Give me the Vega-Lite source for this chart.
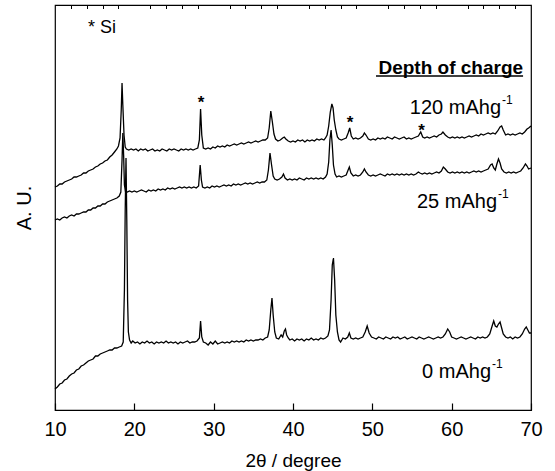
{
 "$schema": "https://vega.github.io/schema/vega-lite/v6.json",
 "width": 476, "height": 405,
 "autosize": {"type": "none"},
 "padding": {"left": 55, "top": 5, "right": 24, "bottom": 61},
 "config": {"font": "Liberation Sans", "view": {"stroke": "black", "strokeWidth": 1.2},
   "axis": {"grid": false, "labelFont": "Liberation Sans", "titleFont": "Liberation Sans", "labelColor": "black", "titleColor": "black", "domainColor": "black", "tickColor": "black"}},
 "datasets": {
  "c0": [{"x":10.0,"y":21},{"x":10.3,"y":23},{"x":10.6,"y":26},{"x":10.9,"y":27},{"x":11.2,"y":30},{"x":11.5,"y":31},{"x":11.8,"y":34},{"x":12.1,"y":36},{"x":12.4,"y":37},{"x":12.7,"y":40},{"x":13.0,"y":41},{"x":13.3,"y":44},{"x":13.6,"y":45},{"x":13.9,"y":47},{"x":14.2,"y":49},{"x":14.5,"y":50},{"x":14.8,"y":51},{"x":15.1,"y":54},{"x":15.4,"y":54},{"x":15.7,"y":56},{"x":16.0,"y":57},{"x":16.3,"y":58},{"x":16.6,"y":59},{"x":16.9,"y":60},{"x":17.2,"y":60},{"x":17.5,"y":62},{"x":17.8,"y":62},{"x":18.1,"y":63},{"x":18.4,"y":64},{"x":18.6,"y":68},{"x":18.75,"y":120},{"x":18.85,"y":200},{"x":18.95,"y":252},{"x":19.05,"y":190},{"x":19.15,"y":110},{"x":19.25,"y":78},{"x":19.4,"y":70},{"x":19.6,"y":67},{"x":19.8,"y":69},{"x":20.1,"y":67},{"x":20.4,"y":68},{"x":20.7,"y":66},{"x":21.0,"y":68},{"x":21.3,"y":67},{"x":21.6,"y":69},{"x":21.9,"y":67},{"x":22.2,"y":68},{"x":22.5,"y":66},{"x":22.8,"y":68},{"x":23.1,"y":67},{"x":23.4,"y":68},{"x":23.7,"y":67},{"x":24.0,"y":69},{"x":24.3,"y":67},{"x":24.6,"y":68},{"x":24.9,"y":67},{"x":25.2,"y":68},{"x":25.5,"y":66},{"x":25.8,"y":68},{"x":26.1,"y":67},{"x":26.4,"y":68},{"x":26.7,"y":69},{"x":27.0,"y":67},{"x":27.3,"y":68},{"x":27.6,"y":68},{"x":27.9,"y":69},{"x":28.2,"y":72},{"x":28.35,"y":89},{"x":28.5,"y":73},{"x":28.7,"y":68},{"x":29.0,"y":67},{"x":29.3,"y":65},{"x":29.6,"y":68},{"x":29.9,"y":66},{"x":30.2,"y":69},{"x":30.5,"y":66},{"x":30.8,"y":67},{"x":31.1,"y":68},{"x":31.4,"y":67},{"x":31.7,"y":68},{"x":32.0,"y":67},{"x":32.3,"y":69},{"x":32.6,"y":68},{"x":32.9,"y":69},{"x":33.2,"y":68},{"x":33.5,"y":69},{"x":33.8,"y":68},{"x":34.1,"y":70},{"x":34.4,"y":69},{"x":34.7,"y":70},{"x":35.0,"y":69},{"x":35.3,"y":70},{"x":35.6,"y":70},{"x":35.9,"y":71},{"x":36.2,"y":70},{"x":36.5,"y":72},{"x":36.8,"y":73},{"x":37.0,"y":80},{"x":37.2,"y":100},{"x":37.35,"y":112},{"x":37.5,"y":95},{"x":37.7,"y":78},{"x":37.9,"y":72},{"x":38.2,"y":71},{"x":38.5,"y":75},{"x":38.7,"y":73},{"x":38.9,"y":79},{"x":39.05,"y":81},{"x":39.2,"y":75},{"x":39.4,"y":72},{"x":39.6,"y":70},{"x":39.9,"y":71},{"x":40.2,"y":69},{"x":40.5,"y":71},{"x":40.8,"y":70},{"x":41.1,"y":71},{"x":41.4,"y":69},{"x":41.7,"y":71},{"x":42.0,"y":70},{"x":42.3,"y":72},{"x":42.6,"y":70},{"x":42.9,"y":71},{"x":43.2,"y":70},{"x":43.5,"y":72},{"x":43.8,"y":71},{"x":44.1,"y":72},{"x":44.4,"y":74},{"x":44.6,"y":80},{"x":44.8,"y":110},{"x":44.95,"y":145},{"x":45.1,"y":152},{"x":45.25,"y":130},{"x":45.4,"y":95},{"x":45.6,"y":78},{"x":45.8,"y":70},{"x":46.0,"y":68},{"x":46.3,"y":72},{"x":46.6,"y":71},{"x":46.9,"y":73},{"x":47.1,"y":77},{"x":47.3,"y":72},{"x":47.6,"y":71},{"x":47.9,"y":72},{"x":48.2,"y":71},{"x":48.5,"y":72},{"x":48.8,"y":73},{"x":49.1,"y":78},{"x":49.35,"y":84},{"x":49.6,"y":77},{"x":49.9,"y":73},{"x":50.2,"y":72},{"x":50.5,"y":71},{"x":50.8,"y":73},{"x":51.1,"y":72},{"x":51.4,"y":71},{"x":51.7,"y":73},{"x":52.0,"y":72},{"x":52.3,"y":71},{"x":52.6,"y":73},{"x":52.9,"y":72},{"x":53.2,"y":73},{"x":53.5,"y":71},{"x":53.8,"y":72},{"x":54.1,"y":73},{"x":54.4,"y":71},{"x":54.7,"y":72},{"x":55.0,"y":73},{"x":55.3,"y":72},{"x":55.6,"y":71},{"x":55.9,"y":73},{"x":56.2,"y":72},{"x":56.5,"y":71},{"x":56.8,"y":72},{"x":57.1,"y":73},{"x":57.4,"y":72},{"x":57.7,"y":71},{"x":58.0,"y":72},{"x":58.3,"y":73},{"x":58.6,"y":72},{"x":58.9,"y":73},{"x":59.2,"y":76},{"x":59.5,"y":81},{"x":59.75,"y":78},{"x":60.0,"y":73},{"x":60.3,"y":72},{"x":60.6,"y":71},{"x":60.9,"y":72},{"x":61.2,"y":73},{"x":61.5,"y":72},{"x":61.8,"y":71},{"x":62.1,"y":72},{"x":62.4,"y":73},{"x":62.7,"y":72},{"x":63.0,"y":71},{"x":63.3,"y":73},{"x":63.6,"y":72},{"x":63.9,"y":73},{"x":64.2,"y":72},{"x":64.5,"y":73},{"x":64.8,"y":76},{"x":65.1,"y":84},{"x":65.3,"y":89},{"x":65.5,"y":84},{"x":65.7,"y":83},{"x":65.9,"y":86},{"x":66.1,"y":88},{"x":66.3,"y":82},{"x":66.5,"y":76},{"x":66.8,"y":73},{"x":67.1,"y":72},{"x":67.4,"y":73},{"x":67.7,"y":71},{"x":68.0,"y":73},{"x":68.3,"y":72},{"x":68.6,"y":73},{"x":68.9,"y":76},{"x":69.2,"y":81},{"x":69.4,"y":83},{"x":69.6,"y":80},{"x":69.8,"y":77},{"x":70.0,"y":77}],
  "c25": [{"x":10.0,"y":190},{"x":10.3,"y":191},{"x":10.6,"y":190},{"x":10.9,"y":192},{"x":11.2,"y":193},{"x":11.5,"y":192},{"x":11.8,"y":194},{"x":12.1,"y":195},{"x":12.4,"y":194},{"x":12.7,"y":196},{"x":13.0,"y":196},{"x":13.3,"y":197},{"x":13.6,"y":198},{"x":13.9,"y":198},{"x":14.2,"y":200},{"x":14.5,"y":200},{"x":14.8,"y":202},{"x":15.1,"y":202},{"x":15.4,"y":204},{"x":15.7,"y":204},{"x":16.0,"y":206},{"x":16.3,"y":206},{"x":16.6,"y":208},{"x":16.9,"y":209},{"x":17.2,"y":210},{"x":17.5,"y":211},{"x":17.8,"y":212},{"x":18.1,"y":214},{"x":18.3,"y":218},{"x":18.45,"y":250},{"x":18.55,"y":277},{"x":18.65,"y":255},{"x":18.75,"y":225},{"x":18.9,"y":218},{"x":19.1,"y":218},{"x":19.4,"y":219},{"x":19.7,"y":218},{"x":20.0,"y":219},{"x":20.3,"y":218},{"x":20.6,"y":219},{"x":20.9,"y":220},{"x":21.2,"y":219},{"x":21.5,"y":218},{"x":21.8,"y":220},{"x":22.1,"y":219},{"x":22.4,"y":220},{"x":22.7,"y":219},{"x":23.0,"y":221},{"x":23.3,"y":220},{"x":23.6,"y":221},{"x":23.9,"y":220},{"x":24.2,"y":222},{"x":24.5,"y":221},{"x":24.8,"y":222},{"x":25.1,"y":221},{"x":25.4,"y":222},{"x":25.7,"y":223},{"x":26.0,"y":222},{"x":26.3,"y":223},{"x":26.6,"y":222},{"x":26.9,"y":223},{"x":27.2,"y":222},{"x":27.5,"y":223},{"x":27.8,"y":222},{"x":28.1,"y":224},{"x":28.3,"y":245},{"x":28.45,"y":230},{"x":28.6,"y":223},{"x":28.9,"y":222},{"x":29.2,"y":223},{"x":29.5,"y":222},{"x":29.8,"y":224},{"x":30.1,"y":223},{"x":30.4,"y":224},{"x":30.7,"y":223},{"x":31.0,"y":224},{"x":31.3,"y":225},{"x":31.6,"y":224},{"x":31.9,"y":225},{"x":32.2,"y":224},{"x":32.5,"y":226},{"x":32.8,"y":225},{"x":33.1,"y":226},{"x":33.4,"y":225},{"x":33.7,"y":226},{"x":34.0,"y":227},{"x":34.3,"y":226},{"x":34.6,"y":227},{"x":34.9,"y":226},{"x":35.2,"y":227},{"x":35.5,"y":228},{"x":35.8,"y":227},{"x":36.1,"y":228},{"x":36.4,"y":228},{"x":36.7,"y":230},{"x":36.9,"y":240},{"x":37.1,"y":257},{"x":37.3,"y":245},{"x":37.5,"y":234},{"x":37.7,"y":231},{"x":38.0,"y":230},{"x":38.3,"y":231},{"x":38.6,"y":233},{"x":38.8,"y":236},{"x":39.0,"y":232},{"x":39.3,"y":230},{"x":39.6,"y":231},{"x":39.9,"y":230},{"x":40.2,"y":231},{"x":40.5,"y":230},{"x":40.8,"y":232},{"x":41.1,"y":231},{"x":41.4,"y":230},{"x":41.7,"y":232},{"x":42.0,"y":231},{"x":42.3,"y":232},{"x":42.6,"y":231},{"x":42.9,"y":232},{"x":43.2,"y":231},{"x":43.5,"y":232},{"x":43.8,"y":231},{"x":44.1,"y":233},{"x":44.3,"y":236},{"x":44.5,"y":248},{"x":44.65,"y":270},{"x":44.8,"y":280},{"x":44.95,"y":265},{"x":45.1,"y":245},{"x":45.3,"y":236},{"x":45.5,"y":233},{"x":45.8,"y":234},{"x":46.1,"y":233},{"x":46.4,"y":234},{"x":46.7,"y":235},{"x":46.95,"y":240},{"x":47.1,"y":243},{"x":47.3,"y":237},{"x":47.6,"y":234},{"x":47.9,"y":235},{"x":48.2,"y":234},{"x":48.5,"y":235},{"x":48.8,"y":238},{"x":49.0,"y":241},{"x":49.2,"y":238},{"x":49.5,"y":235},{"x":49.8,"y":234},{"x":50.1,"y":235},{"x":50.4,"y":234},{"x":50.7,"y":235},{"x":51.0,"y":236},{"x":51.3,"y":235},{"x":51.6,"y":234},{"x":51.9,"y":236},{"x":52.2,"y":235},{"x":52.5,"y":236},{"x":52.8,"y":235},{"x":53.1,"y":236},{"x":53.4,"y":235},{"x":53.7,"y":236},{"x":54.0,"y":235},{"x":54.3,"y":236},{"x":54.6,"y":235},{"x":54.9,"y":236},{"x":55.2,"y":235},{"x":55.5,"y":236},{"x":55.8,"y":238},{"x":56.0,"y":237},{"x":56.3,"y":236},{"x":56.6,"y":237},{"x":56.9,"y":236},{"x":57.2,"y":237},{"x":57.5,"y":236},{"x":57.8,"y":237},{"x":58.1,"y":238},{"x":58.4,"y":237},{"x":58.7,"y":239},{"x":58.95,"y":243},{"x":59.2,"y":241},{"x":59.5,"y":238},{"x":59.8,"y":237},{"x":60.1,"y":238},{"x":60.4,"y":237},{"x":60.7,"y":238},{"x":61.0,"y":237},{"x":61.3,"y":238},{"x":61.6,"y":237},{"x":61.9,"y":238},{"x":62.2,"y":237},{"x":62.5,"y":238},{"x":62.8,"y":239},{"x":63.1,"y":238},{"x":63.4,"y":239},{"x":63.7,"y":238},{"x":64.0,"y":239},{"x":64.3,"y":240},{"x":64.6,"y":241},{"x":64.9,"y":245},{"x":65.1,"y":246},{"x":65.3,"y":242},{"x":65.5,"y":240},{"x":65.7,"y":246},{"x":65.9,"y":251},{"x":66.1,"y":247},{"x":66.3,"y":241},{"x":66.6,"y":238},{"x":66.9,"y":237},{"x":67.2,"y":238},{"x":67.5,"y":237},{"x":67.8,"y":238},{"x":68.1,"y":237},{"x":68.4,"y":238},{"x":68.7,"y":239},{"x":69.0,"y":242},{"x":69.3,"y":246},{"x":69.5,"y":244},{"x":69.7,"y":241},{"x":70.0,"y":242}],
  "c120": [{"x":10.0,"y":223},{"x":10.3,"y":224},{"x":10.6,"y":226},{"x":10.9,"y":226},{"x":11.2,"y":228},{"x":11.5,"y":229},{"x":11.8,"y":230},{"x":12.1,"y":231},{"x":12.4,"y":233},{"x":12.7,"y":233},{"x":13.0,"y":234},{"x":13.3,"y":235},{"x":13.6,"y":237},{"x":13.9,"y":237},{"x":14.2,"y":239},{"x":14.5,"y":240},{"x":14.8,"y":241},{"x":15.1,"y":243},{"x":15.4,"y":244},{"x":15.7,"y":246},{"x":16.0,"y":247},{"x":16.3,"y":249},{"x":16.6,"y":250},{"x":16.9,"y":253},{"x":17.2,"y":255},{"x":17.5,"y":258},{"x":17.8,"y":261},{"x":18.0,"y":264},{"x":18.2,"y":272},{"x":18.35,"y":300},{"x":18.45,"y":327},{"x":18.55,"y":305},{"x":18.7,"y":275},{"x":18.85,"y":263},{"x":19.0,"y":261},{"x":19.3,"y":260},{"x":19.6,"y":261},{"x":19.9,"y":260},{"x":20.2,"y":261},{"x":20.5,"y":259},{"x":20.8,"y":261},{"x":21.1,"y":260},{"x":21.4,"y":261},{"x":21.7,"y":259},{"x":22.0,"y":260},{"x":22.3,"y":261},{"x":22.6,"y":259},{"x":22.9,"y":260},{"x":23.2,"y":259},{"x":23.5,"y":261},{"x":23.8,"y":260},{"x":24.1,"y":259},{"x":24.4,"y":261},{"x":24.7,"y":260},{"x":25.0,"y":261},{"x":25.3,"y":260},{"x":25.6,"y":259},{"x":25.9,"y":261},{"x":26.2,"y":260},{"x":26.5,"y":261},{"x":26.8,"y":260},{"x":27.1,"y":261},{"x":27.4,"y":260},{"x":27.7,"y":261},{"x":28.0,"y":262},{"x":28.2,"y":270},{"x":28.35,"y":301},{"x":28.5,"y":275},{"x":28.7,"y":262},{"x":29.0,"y":261},{"x":29.3,"y":262},{"x":29.6,"y":261},{"x":29.9,"y":263},{"x":30.2,"y":262},{"x":30.5,"y":264},{"x":30.8,"y":263},{"x":31.1,"y":264},{"x":31.4,"y":263},{"x":31.7,"y":265},{"x":32.0,"y":264},{"x":32.3,"y":265},{"x":32.6,"y":266},{"x":32.9,"y":265},{"x":33.2,"y":266},{"x":33.5,"y":267},{"x":33.8,"y":266},{"x":34.1,"y":267},{"x":34.4,"y":268},{"x":34.7,"y":267},{"x":35.0,"y":268},{"x":35.3,"y":269},{"x":35.6,"y":268},{"x":35.9,"y":269},{"x":36.2,"y":270},{"x":36.5,"y":270},{"x":36.8,"y":272},{"x":37.0,"y":282},{"x":37.2,"y":299},{"x":37.4,"y":288},{"x":37.6,"y":276},{"x":37.8,"y":271},{"x":38.1,"y":269},{"x":38.4,"y":270},{"x":38.7,"y":272},{"x":38.9,"y":273},{"x":39.1,"y":271},{"x":39.4,"y":269},{"x":39.7,"y":268},{"x":40.0,"y":269},{"x":40.3,"y":268},{"x":40.6,"y":270},{"x":40.9,"y":269},{"x":41.2,"y":270},{"x":41.5,"y":268},{"x":41.8,"y":270},{"x":42.1,"y":269},{"x":42.4,"y":270},{"x":42.7,"y":269},{"x":43.0,"y":271},{"x":43.3,"y":270},{"x":43.6,"y":271},{"x":43.9,"y":270},{"x":44.1,"y":272},{"x":44.3,"y":275},{"x":44.5,"y":284},{"x":44.7,"y":298},{"x":44.9,"y":306},{"x":45.05,"y":302},{"x":45.2,"y":290},{"x":45.4,"y":280},{"x":45.6,"y":273},{"x":45.8,"y":271},{"x":46.1,"y":270},{"x":46.4,"y":271},{"x":46.7,"y":272},{"x":46.95,"y":277},{"x":47.15,"y":282},{"x":47.35,"y":274},{"x":47.6,"y":271},{"x":47.9,"y":272},{"x":48.2,"y":271},{"x":48.5,"y":272},{"x":48.8,"y":274},{"x":49.0,"y":277},{"x":49.2,"y":275},{"x":49.5,"y":271},{"x":49.8,"y":270},{"x":50.1,"y":271},{"x":50.4,"y":270},{"x":50.7,"y":272},{"x":51.0,"y":271},{"x":51.3,"y":272},{"x":51.6,"y":271},{"x":51.9,"y":273},{"x":52.2,"y":272},{"x":52.5,"y":271},{"x":52.8,"y":273},{"x":53.1,"y":272},{"x":53.4,"y":271},{"x":53.7,"y":272},{"x":54.0,"y":273},{"x":54.3,"y":271},{"x":54.6,"y":272},{"x":54.9,"y":271},{"x":55.2,"y":272},{"x":55.5,"y":273},{"x":55.8,"y":274},{"x":56.1,"y":278},{"x":56.35,"y":273},{"x":56.6,"y":272},{"x":56.9,"y":273},{"x":57.2,"y":272},{"x":57.5,"y":273},{"x":57.8,"y":274},{"x":58.1,"y":273},{"x":58.4,"y":275},{"x":58.7,"y":276},{"x":58.9,"y":278},{"x":59.2,"y":275},{"x":59.5,"y":273},{"x":59.8,"y":272},{"x":60.1,"y":273},{"x":60.4,"y":272},{"x":60.7,"y":273},{"x":61.0,"y":272},{"x":61.3,"y":273},{"x":61.6,"y":272},{"x":61.9,"y":273},{"x":62.2,"y":274},{"x":62.5,"y":273},{"x":62.8,"y":274},{"x":63.1,"y":275},{"x":63.4,"y":274},{"x":63.7,"y":276},{"x":64.0,"y":275},{"x":64.3,"y":276},{"x":64.6,"y":277},{"x":64.9,"y":276},{"x":65.2,"y":277},{"x":65.5,"y":276},{"x":65.8,"y":279},{"x":66.1,"y":283},{"x":66.3,"y":284},{"x":66.5,"y":280},{"x":66.8,"y":275},{"x":67.1,"y":276},{"x":67.4,"y":275},{"x":67.7,"y":276},{"x":68.0,"y":275},{"x":68.3,"y":276},{"x":68.6,"y":277},{"x":68.9,"y":276},{"x":69.2,"y":278},{"x":69.5,"y":281},{"x":69.7,"y":282},{"x":70.0,"y":284}],
  "stars": [{"x":28.4,"y":307},{"x":47.2,"y":287},{"x":56.2,"y":279}],
  "curveLabels": [{"x":66.22,"y":302,"t":"120 mAhg"},{"x":65.72,"y":208,"t":"25 mAhg"},{"x":64.96,"y":38,"t":"0 mAhg"}],
  "sups": [{"x":66.35,"y":310,"t":"-1"},{"x":65.84,"y":216,"t":"-1"},{"x":65.09,"y":46,"t":"-1"}],
  "si": [{"x":14.16,"y":382,"t":"* Si"}],
  "heading": [{"x":69.0,"y":342,"t":"Depth of charge","x2":50.46,"yu":334}]
 },
 "resolve": {"axis": {"x": "independent", "y": "independent"}},
 "layer": [
  {"data": {"name": "c0"}, "mark": {"type": "line", "color": "black", "strokeWidth": 1.3},
   "encoding": {
    "x": {"field": "x", "type": "quantitative", "scale": {"domain": [10, 70], "nice": false, "zero": false},
      "axis": {"values": [10,20,30,40,50,60,70], "tickSize": -7, "tickWidth": 1.2, "labelFontSize": 20, "labelPadding": 16, "labelFlush": false, "labelOverlap": false, "domainWidth": 1.2, "title": "2θ / degree", "titleFontSize": 19, "titleFontWeight": "normal", "titlePadding": 12}},
    "y": {"field": "y", "type": "quantitative", "scale": {"domain": [0, 405], "nice": false, "zero": false},
      "axis": {"title": "A. U.", "labels": false, "ticks": false, "domain": false, "titleFontSize": 20, "titleFontWeight": "normal", "titlePadding": 21}}
   }},
  {"data": {"name": "c25"}, "mark": {"type": "line", "color": "black", "strokeWidth": 1.3},
   "encoding": {"x": {"field": "x", "type": "quantitative", "axis": null}, "y": {"field": "y", "type": "quantitative", "axis": null}}},
  {"data": {"name": "c120"}, "mark": {"type": "line", "color": "black", "strokeWidth": 1.3},
   "encoding": {"x": {"field": "x", "type": "quantitative", "axis": null}, "y": {"field": "y", "type": "quantitative", "axis": null}}},
  {"data": {"name": "stars"}, "mark": {"type": "text", "text": "*", "fontSize": 17, "fontWeight": "bold", "baseline": "middle", "align": "center", "color": "black"},
   "encoding": {
    "x": {"field": "x", "type": "quantitative", "axis": {"values": [12,14,16,18,22,24,26,28,32,34,36,38,42,44,46,48,52,54,56,58,62,64,66,68], "tickSize": -3.5, "tickWidth": 1, "labels": false, "domain": false, "title": null}},
    "y": {"field": "y", "type": "quantitative", "axis": null}}},
  {"data": {"name": "curveLabels"}, "mark": {"type": "text", "fontSize": 20, "align": "right", "baseline": "middle", "color": "black"},
   "encoding": {"x": {"field": "x", "type": "quantitative", "axis": null}, "y": {"field": "y", "type": "quantitative", "axis": null}, "text": {"field": "t"}}},
  {"data": {"name": "sups"}, "mark": {"type": "text", "fontSize": 12, "align": "left", "baseline": "middle", "color": "black"},
   "encoding": {"x": {"field": "x", "type": "quantitative", "axis": null}, "y": {"field": "y", "type": "quantitative", "axis": null}, "text": {"field": "t"}}},
  {"data": {"name": "si"}, "mark": {"type": "text", "fontSize": 18, "align": "left", "baseline": "middle", "color": "black"},
   "encoding": {"x": {"field": "x", "type": "quantitative", "axis": null}, "y": {"field": "y", "type": "quantitative", "axis": null}, "text": {"field": "t"}}},
  {"data": {"name": "heading"}, "mark": {"type": "text", "fontSize": 19, "fontWeight": "bold", "align": "right", "baseline": "middle", "color": "black"},
   "encoding": {"x": {"field": "x", "type": "quantitative", "axis": null}, "y": {"field": "y", "type": "quantitative", "axis": null}, "text": {"field": "t"}}},
  {"data": {"name": "heading"}, "mark": {"type": "rule", "color": "black", "strokeWidth": 1.6},
   "encoding": {"x": {"field": "x2", "type": "quantitative", "axis": null}, "x2": {"field": "x"}, "y": {"field": "yu", "type": "quantitative", "axis": null}}}
 ]
}
